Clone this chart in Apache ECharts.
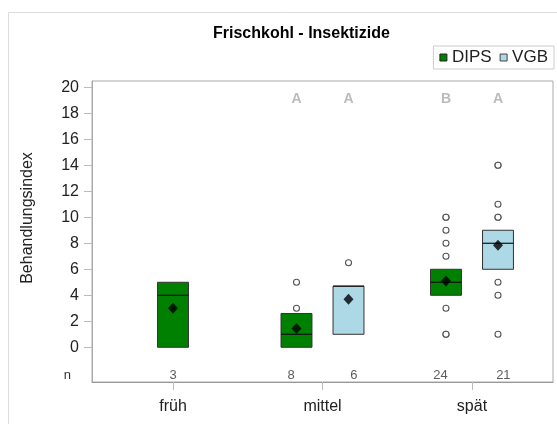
<!DOCTYPE html>
<html>
<head>
<meta charset="utf-8">
<script src="https://cdn.jsdelivr.net/npm/echarts@6/dist/echarts.min.js"></script>
<style>html,body{margin:0;padding:0;background:#fff}#c{width:557px;height:424px}</style>
</head>
<body>
<div id="c"></div>
<script>
const categories = ['früh', 'mittel', 'spät'];
const seriesNames = ['DIPS', 'VGB'];
const dipsQ1 = [0, 0, 4];
const dipsMedian = [4, 1, 5];
const dipsQ3 = [5, 2.6, 6];
const dipsMean = [3, 1.45, 5.1];
const dipsOutliers = [[], [3, 5], [1, 1, 3, 7, 8, 9, 10, 10]];
const dipsN = [3, 8, 24];
const dipsLetters = [null, 'A', 'B'];
const vgbQ1 = [null, 1, 6];
const vgbMedian = [null, 4.7, 8];
const vgbQ3 = [null, 4.7, 9];
const vgbMean = [null, 3.7, 7.85];
const vgbOutliers = [[], [6.5], [1, 4, 5, 10, 10, 11, 14, 14]];
const vgbN = [null, 6, 21];
const vgbLetters = [null, 'A', 'A'];
const yTickValues = [0, 2, 4, 6, 8, 10, 12, 14, 16, 18, 20];

const FONT = 'Liberation Sans, Arial, sans-serif';
const colors = {DIPS: '#008000', VGB: '#add8e6'};
const groupOffset = 0.174;
const countOffset = 0.21;
const halfBox = 0.1035;
const nRowY = -2.13;
const letterY = 19.1;

function xPos(i, which) {
  const both = dipsQ1[i] != null && vgbQ1[i] != null;
  if (!both) return i + 1;
  return i + 1 + (which === 0 ? -groupOffset : groupOffset);
}
function xCount(i, which) {
  const both = dipsN[i] != null && vgbN[i] != null;
  if (!both) return i + 1;
  return i + 1 + (which === 0 ? -countOffset : countOffset);
}
const groups = [
  {q1: dipsQ1, med: dipsMedian, q3: dipsQ3, mean: dipsMean, out: dipsOutliers, n: dipsN, let: dipsLetters},
  {q1: vgbQ1, med: vgbMedian, q3: vgbQ3, mean: vgbMean, out: vgbOutliers, n: vgbN, let: vgbLetters}
];

const series = [];
groups.forEach((g, w) => {
  const boxData = [], meanData = [], outData = [], nData = [], letData = [];
  categories.forEach((c, i) => {
    if (g.q1[i] != null) {
      boxData.push([xPos(i, w), g.q1[i], g.med[i], g.q3[i]]);
      meanData.push([xPos(i, w), g.mean[i]]);
      g.out[i].forEach(v => outData.push([xPos(i, w), v]));
    }
    if (g.n[i] != null) nData.push([xCount(i, w), nRowY, g.n[i]]);
    if (g.let[i] != null) letData.push([xPos(i, w), letterY, g.let[i]]);
  });
  const color = colors[seriesNames[w]];
  series.push({
    name: seriesNames[w], type: 'custom', z: 2,
    data: boxData,
    encode: {x: 0, y: [1, 2, 3]},
    itemStyle: {color: color},
    renderItem: function (params, api) {
      const x = api.value(0), q1 = api.value(1), med = api.value(2), q3 = api.value(3);
      const a = api.coord([x - halfBox, q3]);
      const b = api.coord([x + halfBox, q1]);
      const m1 = api.coord([x - halfBox, med]);
      const m2 = api.coord([x + halfBox, med]);
      return {type: 'group', children: [
        {type: 'rect', shape: {x: a[0], y: a[1], width: b[0] - a[0], height: b[1] - a[1]},
         style: {fill: color, stroke: '#333', lineWidth: 1}},
        {type: 'line', shape: {x1: m1[0], y1: m1[1], x2: m2[0], y2: m2[1]},
         style: {stroke: '#111', lineWidth: 1.2}}
      ]};
    }
  });
  series.push({
    name: seriesNames[w] + ' Ausreißer', type: 'scatter', z: 3, data: outData,
    symbol: 'circle', symbolSize: 6,
    itemStyle: {color: '#fff', borderColor: '#555', borderWidth: 1.1, opacity: 1}
  });
  series.push({
    name: seriesNames[w] + ' Mittel', type: 'scatter', z: 4, data: meanData,
    symbol: 'diamond', symbolSize: [10, 11],
    itemStyle: {color: '#000'}
  });
  series.push({
    name: seriesNames[w] + ' n', type: 'scatter', z: 4, data: nData,
    symbolSize: 0, silent: true,
    label: {show: true, position: 'inside', formatter: p => String(p.value[2]),
      fontFamily: FONT, fontSize: 13, color: '#333'}
  });
  series.push({
    name: seriesNames[w] + ' Gruppen', type: 'scatter', z: 4, data: letData,
    symbolSize: 0, silent: true,
    label: {show: true, position: 'inside', formatter: p => String(p.value[2]),
      fontFamily: FONT, fontSize: 14, fontWeight: 'bold', color: '#aaa'}
  });
});

const chart = echarts.init(document.getElementById('c'), null, {renderer: 'canvas'});
chart.setOption({
  animation: false,
  backgroundColor: '#fff',
  textStyle: {fontFamily: FONT},
  title: {
    text: 'Frischkohl - Insektizide', left: 208, top: 21,
    textStyle: {fontFamily: FONT, fontSize: 16, fontWeight: 'bold', color: '#000'}
  },
  legend: {
    data: [
      {name: 'DIPS', icon: 'rect', itemStyle: {color: colors.DIPS, borderColor: '#222', borderWidth: 1}},
      {name: 'VGB', icon: 'rect', itemStyle: {color: colors.VGB, borderColor: '#444', borderWidth: 1}}
    ],
    right: 3, top: 46, itemWidth: 7, itemHeight: 7, itemGap: 8,
    borderColor: '#ccc', borderWidth: 1, padding: [3, 6, 3, 6],
    textStyle: {fontFamily: FONT, fontSize: 17, color: '#222'},
    selectedMode: false
  },
  grid: {left: 92, right: 4, top: 81, bottom: 42, show: true, borderColor: '#aaa', borderWidth: 1},
  xAxis: {
    type: 'value', min: 0.458, max: 3.542,
    splitLine: {show: false},
    axisLine: {show: true, onZero: false, lineStyle: {color: '#999'}},
    axisTick: {show: true, length: 8, customValues: [1, 2, 3], lineStyle: {color: '#bbb'}},
    axisLabel: {customValues: [1, 2, 3], formatter: v => categories[Math.round(v) - 1] || '',
      fontFamily: FONT, fontSize: 16, color: '#222', margin: 17}
  },
  yAxis: {
    type: 'value', min: -2.67, max: 20.48,
    splitLine: {show: false},
    axisLine: {show: true, onZero: false, lineStyle: {color: '#aaa'}},
    axisTick: {show: true, length: 8, customValues: yTickValues, lineStyle: {color: '#bbb'}},
    axisLabel: {customValues: yTickValues.concat([nRowY]),
      formatter: v => (v < 0 ? '{n|n}' : String(v)),
      fontFamily: FONT, fontSize: 16, color: '#222', margin: 13,
      rich: {n: {fontFamily: FONT, fontSize: 13, color: '#333', padding: [0, 8, 0, 0]}}}
  },
  graphic: [
    {type: 'rect', silent: true, z: -10, shape: {x: 8.5, y: 12.5, width: 700, height: 600},
     style: {fill: 'none', stroke: '#ddd', lineWidth: 1}},
    {type: 'text', silent: true, x: 28, y: 218, rotation: Math.PI / 2,
     style: {text: 'Behandlungsindex', fontFamily: FONT, fontSize: 16, fill: '#222',
       align: 'center', verticalAlign: 'middle'}}
  ],
  series: series
});
</script>
</body>
</html>
